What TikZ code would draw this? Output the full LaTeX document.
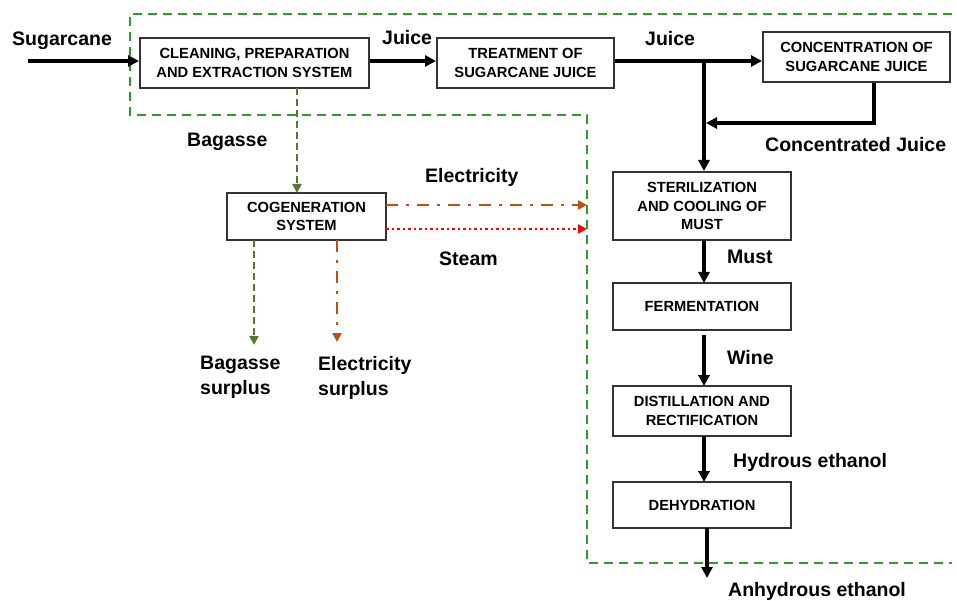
\documentclass[tikz,border=0pt]{standalone}
\usepackage{fontspec}
\setmainfont{Liberation Sans}
\usetikzlibrary{arrows.meta}
\definecolor{bgreen}{RGB}{40,160,40}
\definecolor{olive}{RGB}{84,120,50}
\definecolor{rust}{RGB}{190,80,20}
\tikzset{
  proc/.style={draw=black!80, line width=2pt, fill=white, align=center, inner sep=0pt,
    font=\fontsize{14.7}{18.5}\selectfont\bfseries},
  lbl/.style={font=\fontsize{19.5}{25}\selectfont\bfseries, inner sep=0pt},
  flow/.style={line width=3.3pt, -{Triangle[length=11pt,width=11pt]}},
  bag/.style={olive, line width=2.6pt, dash pattern=on 7pt off 4pt, -{Triangle[length=9pt,width=9pt]}},
  elec/.style={rust, line width=2.6pt, dash pattern=on 12pt off 8pt on 3pt off 8pt, -{Triangle[length=9pt,width=9pt]}},
  steam/.style={red, line width=2.8pt, dash pattern=on 2.5pt off 3pt, -{Triangle[length=9pt,width=9pt]}},
  bound/.style={bgreen, line width=2.4pt, dash pattern=on 9pt off 6pt}
}
\begin{document}
\begin{tikzpicture}[x=1pt,y=-1pt]
\useasboundingbox (0,0) rectangle (957,601);
% boundary
\draw[bound] (952,14) -- (130,14) -- (130,115) -- (587,115) -- (587,563) -- (952,563);
% boxes
\node[proc, minimum width=229pt, minimum height=50pt] (clean) at (254.5,63) {CLEANING, PREPARATION\\AND EXTRACTION SYSTEM};
\node[proc, minimum width=177pt, minimum height=50pt] (treat) at (525.5,63) {TREATMENT OF\\SUGARCANE JUICE};
\node[proc, minimum width=187pt, minimum height=50pt] (conc) at (856.5,57) {CONCENTRATION OF\\SUGARCANE JUICE};
\node[proc, minimum width=159pt, minimum height=47pt] (cogen) at (306.5,216.5) {COGENERATION\\SYSTEM};
\node[proc, minimum width=178pt, minimum height=68pt] (steril) at (702,206) {STERILIZATION\\AND COOLING OF\\MUST};
\node[proc, minimum width=178pt, minimum height=47pt] (ferm) at (702,306.5) {FERMENTATION};
\node[proc, minimum width=178pt, minimum height=50pt] (dist) at (702,411) {DISTILLATION AND\\RECTIFICATION};
\node[proc, minimum width=178pt, minimum height=46pt] (dehy) at (702,505) {DEHYDRATION};
% coordinates
\coordinate (src) at (28,61);
\coordinate (split) at (704,61);
\coordinate (cjturn) at (874,123);
\coordinate (cjend) at (706,123);
\coordinate (elecend) at (587,205);
\coordinate (steamend) at (587,229);
\coordinate (bagsur) at (254,345);
\coordinate (elsur) at (337,342);
\coordinate (anh) at (707,578);
% main flow
\draw[flow] (src) -- (src -| clean.west);
\draw[flow] (clean.east |- 0,61) -- (treat.west |- 0,61);
\draw[flow] (treat.east |- 0,61) -- (conc.west |- 0,61);
\draw[line width=3.3pt] (split) -- (split |- 0,100);
\draw[flow] (split |- 0,100) -- (split |- steril.north);
\draw[line width=3.3pt] (conc.south -| cjturn) -- (cjturn);
\draw[flow] ([xshift=1.6pt]cjturn) -- (cjend);
\draw[flow] (704,240) -- (704,283);
\draw[flow] (704,335) -- (704,386);
\draw[flow] (704,436) -- (704,482);
\draw[flow] (707,528) -- (anh);
% cogeneration
\draw[bag] (297,88) -- (297,193);
\draw[elec] (386,205) -- (elecend);
\draw[steam] (386,229) -- (steamend);
\draw[bag] (254,240) -- (bagsur);
\draw[elec] (337,240) -- (elsur);
% labels
\node[lbl, anchor=west] (l1) at (12,41) {Sugarcane};
\node[lbl, anchor=west] (l2) at (382,38) {Juice};
\node[lbl, anchor=west] (l3) at (645,39) {Juice};
\node[lbl, anchor=west] (l4) at (765,145) {Concentrated Juice};
\node[lbl, anchor=west] (l5) at (187,142) {Bagasse};
\node[lbl, anchor=west] (l6) at (425,177) {Electricity};
\node[lbl, anchor=west] (l7) at (439,259) {Steam};
\node[lbl, anchor=north west, align=left] (l8) at (200,356) {Bagasse\\surplus};
\node[lbl, anchor=north west, align=left] (l9) at (318,356) {Electricity\\surplus};
\node[lbl, anchor=west] (l10) at (727,257) {Must};
\node[lbl, anchor=west] (l11) at (727,358) {Wine};
\node[lbl, anchor=west] (l12) at (733,462) {Hydrous ethanol};
\node[lbl, anchor=west] (l13) at (728,591) {Anhydrous ethanol};
\end{tikzpicture}
\end{document}
